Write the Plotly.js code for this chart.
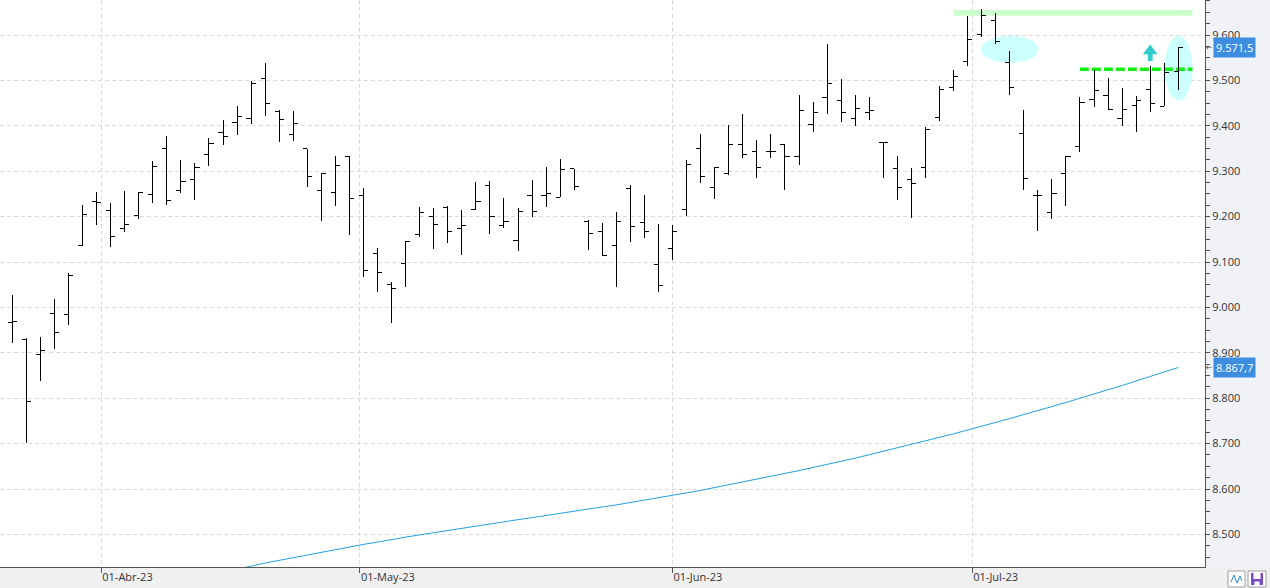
<!DOCTYPE html>
<html><head><meta charset="utf-8">
<script src="https://cdn.plot.ly/plotly-3.0.1.min.js"></script>
<style>html,body{margin:0;padding:0;background:#f0f0f0;overflow:hidden}#chart{width:1270px;height:588px}
.trace.ohlc path{shape-rendering:crispEdges}</style>
</head><body><div id="chart"></div>
<script>
// Trading days (IBEX 35 style daily bars)
const dates = [
 "2023-03-23","2023-03-24","2023-03-27","2023-03-28","2023-03-29","2023-03-30","2023-03-31",
 "2023-04-03","2023-04-04","2023-04-05","2023-04-06","2023-04-11","2023-04-12","2023-04-13","2023-04-14",
 "2023-04-17","2023-04-18","2023-04-19","2023-04-20","2023-04-21","2023-04-24","2023-04-25","2023-04-26","2023-04-27","2023-04-28",
 "2023-05-02","2023-05-03","2023-05-04","2023-05-05","2023-05-08","2023-05-09","2023-05-10","2023-05-11","2023-05-12",
 "2023-05-15","2023-05-16","2023-05-17","2023-05-18","2023-05-19","2023-05-22","2023-05-23","2023-05-24","2023-05-25","2023-05-26",
 "2023-05-29","2023-05-30","2023-05-31",
 "2023-06-01","2023-06-02","2023-06-05","2023-06-06","2023-06-07","2023-06-08","2023-06-09","2023-06-12","2023-06-13","2023-06-14",
 "2023-06-15","2023-06-16","2023-06-19","2023-06-20","2023-06-21","2023-06-22","2023-06-23","2023-06-26","2023-06-27","2023-06-28",
 "2023-06-29","2023-06-30",
 "2023-07-03","2023-07-04","2023-07-05","2023-07-06","2023-07-07","2023-07-10","2023-07-11","2023-07-12","2023-07-13","2023-07-14",
 "2023-07-17","2023-07-18","2023-07-19","2023-07-20","2023-07-21"
];
const openV = [8967,8930,8897,8986,8985,9137,9233,9214,9173,9203,
 9249,9350,9258,9282,9337,9386,9408,9415,9505,9432,
 9381,9349,9258,9254,9333,9247,9118,9051,9097,9161,
 9201,9219,9174,9216,9269,9181,9148,9247,9247,9243,
 9305,9190,9168,9137,9262,9187,9095,9130,9216,9351,
 9265,9295,9358,9344,9344,9358,9333,9403,9463,9456,
 9417,9430,9364,9305,9282,9309,9419,9485,9541,9602,
 9632,9540,9383,9247,9210,9295,9355,9458,9467,9415,
 9445,9480,9443,9519];
const highV = [9027,8932,8934,9019,9075,9226,9254,9231,9256,9254,
 9322,9378,9325,9317,9373,9413,9444,9499,9538,9434,
 9433,9349,9295,9334,9333,9263,9131,9057,9146,9221,
 9219,9223,9215,9276,9278,9241,9219,9281,9309,9327,
 9305,9192,9187,9210,9270,9248,9184,9182,9325,9382,
 9309,9402,9426,9369,9382,9358,9468,9452,9580,9503,
 9468,9463,9364,9334,9307,9397,9488,9523,9642,9657,
 9648,9565,9435,9259,9283,9333,9463,9522,9505,9483,
 9466,9532,9539,9571.5];
const lowV = [8921,8702,8839,8909,8962,9135,9182,9134,9167,9195,
 9231,9226,9253,9237,9312,9358,9380,9405,9422,9365,
 9367,9266,9191,9224,9159,9068,9035,8966,9046,9156,
 9129,9142,9116,9214,9161,9174,9125,9200,9222,9243,
 9259,9127,9115,9046,9145,9153,9035,9104,9202,9275,
 9239,9292,9330,9286,9328,9259,9314,9387,9427,9409,
 9400,9413,9284,9237,9198,9286,9411,9477,9532,9596,
 9580,9468,9259,9169,9195,9224,9342,9441,9435,9400,
 9386,9431,9443,9479];
const closeV = [8969,8793,8906,8944,9071,9205,9231,9156,9183,9254,
 9311,9236,9278,9309,9361,9377,9421,9494,9450,9414,
 9406,9289,9294,9313,9240,9082,9076,9042,9146,9209,
 9183,9168,9181,9234,9201,9190,9212,9212,9251,9304,
 9267,9163,9115,9190,9179,9168,9049,9168,9315,9289,
 9309,9359,9337,9309,9344,9333,9433,9430,9494,9430,
 9439,9434,9364,9265,9273,9392,9480,9509,9591,9643,
 9585,9485,9284,9247,9251,9332,9452,9478,9436,9436,
 9455,9450,9518,9571.5];
// long moving average (null before the line enters the visible window)
const maV = [null,null,null,null,null,null,null,null,null,null,
 null,null,null,null,null,8417,8423,8430,8437,8443,
 8449,8455,8461,8467,8472.5,8478,8483,8489,8494,8499,
 8504,8509,8514,8518.5,8523,8528,8532.5,8537,8542,8546,
 8551,8556,8560.5,8565,8570,8575.5,8580.5,8586,8591.5,8597,
 8603,8609,8615,8621,8627.5,8634,8640.5,8647.5,8654,8661,
 8668,8675.5,8683,8690.5,8698,8705.5,8713.5,8721.5,8730,8738,
 8746.5,8755,8764,8772.5,8781.5,8790.5,8800,8809,8818.5,8828,
 8838,8847.5,8857.5,8867.7];
const monthTicks = ["2023-04-01","2023-05-01","2023-06-01","2023-07-01"];
const monthLabels = ["01-Abr-23","01-May-23","01-Jun-23","01-Jul-23"];
const yTicks = [8500,8600,8700,8800,8900,9000,9100,9200,9300,9400,9500,9600];

// position of a calendar date on the trading-day index scale
const dayMs = d => Date.parse(d + "T00:00:00Z");
function posOf(d){
  const t = dayMs(d);
  for (let i = 0; i < dates.length; i++){
    const ti = dayMs(dates[i]);
    if (ti === t) return i;
    if (i + 1 < dates.length){
      const tn = dayMs(dates[i+1]);
      if (t > ti && t < tn) return i + (t - ti) / (tn - ti);
    }
  }
  return null;
}
const xIdx = dates.map((d, i) => i);
const tickPos = monthTicks.map(posOf);

function fmt(v){
  const s = v.toFixed(1).split(".");
  return s[0].replace(/\B(?=(\d{3})+(?!\d))/g, ".") + "," + s[1];
}

const W = 1205, H = 567; // plot area in px
const PX = x => x / W, PY = y => (H - y) / H;

const traces = [
  {type:"scatter", mode:"lines", x:xIdx, y:maV, line:{color:"#1fa2e2", width:1}, hoverinfo:"skip", connectgaps:false},
  {type:"ohlc", x:xIdx, open:openV, high:highV, low:lowV, close:closeV,
   increasing:{line:{color:"#000", width:1}}, decreasing:{line:{color:"#000", width:1}},
   tickwidth:0.33, hoverinfo:"skip"}
];

const last = dates.length - 1;
const shapes = [
  {type:"rect", xref:"paper", yref:"paper", x0:1, x1:PX(1270), y0:0, y1:1, fillcolor:"#f1f2f5", line:{width:0}, layer:"below"},
  {type:"rect", xref:"x", yref:"y", x0:66.98, x1:84.01, y0:9642.5, y1:9655, fillcolor:"#ccffcc", line:{width:0}, layer:"between"},
  {type:"circle", xref:"x", yref:"y", x0:68.95, x1:73.05, y0:9539, y1:9598, fillcolor:"#ccffff", line:{width:0}, layer:"between"},
  {type:"circle", xref:"x", yref:"y", x0:82.04, x1:84.01, y0:9455, y1:9598.5, fillcolor:"#ccffff", line:{width:0}, layer:"between"},
  {type:"line", xref:"x", yref:"y", x0:75.99, x1:84.01, y0:9524.4, y1:9524.4, line:{color:"#11ee11", width:3.5, dash:"9px,3px"}, layer:"between"},
  {type:"path", xref:"x", yref:"y", path:"M 81,9579 L 81.52,9557.5 L 81.17,9557.5 L 81.17,9542.5 L 80.83,9542.5 L 80.83,9557.5 L 80.48,9557.5 Z",
   fillcolor:"#33cccc", line:{width:0}, layer:"above"},
  {type:"rect", xref:"paper", yref:"paper", x0:PX(1228), x1:PX(1245), y0:PY(587), y1:PY(571), fillcolor:"#ffffff", line:{color:"#a0a0a0", width:1}},
  {type:"path", xref:"paper", yref:"paper", path:`M ${PX(1231)},${PY(582)} L ${PX(1234)},${PY(575)} L ${PX(1237)},${PY(583)} L ${PX(1240)},${PY(576)} L ${PX(1242)},${PY(581)}`, line:{color:"#2a8ad8", width:1}},
  {type:"rect", xref:"paper", yref:"paper", x0:PX(1248), x1:PX(1266), y0:PY(587), y1:PY(571), fillcolor:"#ffffff", line:{color:"#a0a0a0", width:1}},
  {type:"rect", xref:"paper", yref:"paper", x0:PX(1251), x1:PX(1263), y0:PY(585), y1:PY(573), fillcolor:"#7b4cc4", line:{width:0}},
  {type:"rect", xref:"paper", yref:"paper", x0:PX(1253.5), x1:PX(1260.5), y0:PY(579), y1:PY(573), fillcolor:"#ffffff", line:{width:0}},
  {type:"rect", xref:"paper", yref:"paper", x0:PX(1254.5), x1:PX(1259.5), y0:PY(585), y1:PY(581.5), fillcolor:"#ffffff", line:{width:0}}
];

const annotations = [
  {xref:"paper", yref:"y", x:PX(1213), xanchor:"left", y:closeV[last], yanchor:"middle", text:fmt(closeV[last]),
   showarrow:false, bgcolor:"#3d8ee0", borderpad:2, font:{family:"Open Sans, sans-serif", size:11, color:"#ffffff"}},
  {xref:"paper", yref:"y", x:PX(1213), xanchor:"left", y:maV[last], yanchor:"middle", text:fmt(maV[last]),
   showarrow:false, bgcolor:"#3d8ee0", borderpad:2, font:{family:"Open Sans, sans-serif", size:11, color:"#ffffff"}},
  {xref:"paper", yref:"y", x:PX(1209), xanchor:"center", y:closeV[last], yanchor:"middle", text:"←", showarrow:false,
   font:{family:"DejaVu Sans", size:8, color:"#555"}},
  {xref:"paper", yref:"y", x:PX(1209), xanchor:"center", y:maV[last], yanchor:"middle", text:"←", showarrow:false,
   font:{family:"DejaVu Sans", size:8, color:"#555"}}
];

const layout = {
  width:1270, height:588,
  margin:{l:0, r:65, t:0, b:21, pad:0},
  paper_bgcolor:"#f0f0f0", plot_bgcolor:"#ffffff",
  separators:",.",
  showlegend:false,
  font:{family:"Open Sans, sans-serif", size:11, color:"#333"},
  xaxis:{type:"linear", range:[-0.875, 84.9], rangeslider:{visible:false},
    tickmode:"array", tickvals:tickPos, ticktext:monthLabels,
    ticks:"outside", ticklen:5, tickcolor:"#555", ticklabelposition:"outside right",
    showgrid:true, gridcolor:"#dadada", griddash:"4px,3px", gridwidth:1,
    showline:true, linecolor:"#555", linewidth:1, zeroline:false,
    tickfont:{family:"Open Sans, sans-serif", size:11, color:"#333"}, fixedrange:true},
  yaxis:{side:"right", range:[8428.2, 9677.1], tickmode:"array", tickvals:yTicks, tickformat:",d",
    ticks:"outside", ticklen:4, tickcolor:"#555",
    minor:{dtick:25, tick0:0, ticks:"outside", ticklen:4, tickcolor:"#555", showgrid:false},
    showgrid:true, gridcolor:"#dadada", griddash:"4px,3px", gridwidth:1,
    showline:true, linecolor:"#555", linewidth:1, zeroline:false,
    tickfont:{family:"Open Sans, sans-serif", size:11, color:"#333"}, fixedrange:true},
  shapes:shapes, annotations:annotations
};

Plotly.newPlot("chart", traces, layout, {displayModeBar:false, staticPlot:true});
</script></body></html>
